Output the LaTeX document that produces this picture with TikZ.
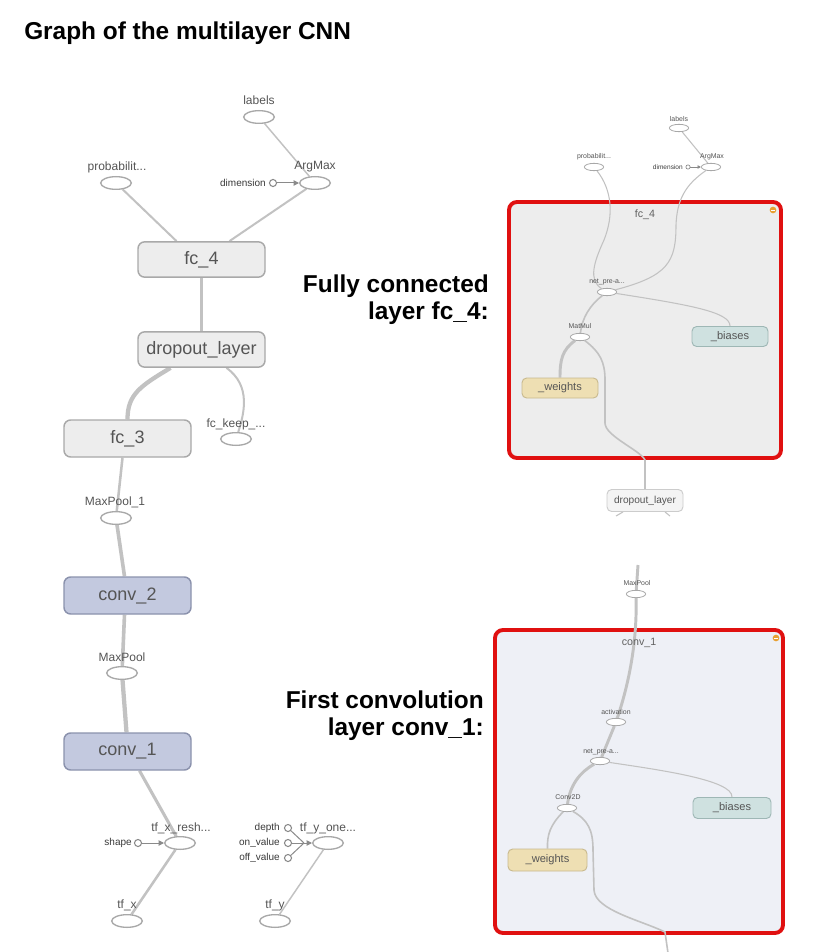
\documentclass[tikz,border=0pt]{standalone}
\usepackage{fontspec}
\setmainfont{Liberation Sans}
\usetikzlibrary{shapes.geometric,calc,arrows.meta}
\pgfdeclarelayer{frames}
\pgfdeclarelayer{bg}
\pgfsetlayers{frames,bg,main}
\definecolor{boxfill}{HTML}{EDEDED}
\definecolor{boxline}{HTML}{A9A9A9}
\definecolor{convfill}{HTML}{C3C9DF}
\definecolor{convline}{HTML}{8B92AD}
\definecolor{elline}{HTML}{A8A8A8}
\definecolor{edgec}{HTML}{C2C2C2}
\definecolor{constc}{HTML}{8A8A8A}
\definecolor{redc}{HTML}{E01010}
\definecolor{wfill}{HTML}{EEDFB3}
\definecolor{wline}{HTML}{C8B98E}
\definecolor{bfill}{HTML}{CFE1E0}
\definecolor{bline}{HTML}{9EB7B5}
\definecolor{orangec}{HTML}{E8A030}
\definecolor{txt}{HTML}{555555}
\definecolor{ctxt}{HTML}{3A3A3A}
\definecolor{fcfill}{HTML}{EDEDED}
\definecolor{cvfill}{HTML}{EEF0F6}
\definecolor{sdfill}{HTML}{F4F4F4}
\definecolor{sdline}{HTML}{CCCCCC}
\begin{document}
\begin{tikzpicture}[x=0.75pt,y=-0.75pt,
  box/.style={draw=boxline, fill=boxfill, rounded corners=5pt, line width=1.1pt,
    minimum width=95.25pt, minimum height=26.5pt, inner sep=0pt,
    font=\fontsize{13.5}{15}\selectfont, text=txt},
  convbox/.style={box, fill=convfill, draw=convline},
  ell/.style={ellipse, draw=elline, fill=white, line width=1pt,
    minimum width=23pt, minimum height=9.5pt, inner sep=0pt},
  lbl/.style={font=\fontsize{9}{10}\selectfont, text=txt, inner sep=0pt},
  const/.style={circle, draw=constc, fill=white, line width=0.8pt,
    minimum size=5.3pt, inner sep=0pt},
  clbl/.style={font=\fontsize{7.5}{8}\selectfont, text=ctxt, inner sep=0pt, anchor=east},
  carrow/.style={draw=constc, line width=0.75pt, -{Triangle[length=4pt,width=4pt]}},
  ea/.style={draw=edgec, line width=1.1pt},
  eb/.style={draw=edgec, line width=1.5pt},
  ec/.style={draw=edgec, line width=1.9pt},
  ed/.style={draw=edgec, line width=2.3pt},
  ee/.style={draw=edgec, line width=2.7pt},
  ef/.style={draw=edgec, line width=3.2pt},
  sell/.style={ellipse, draw=elline, fill=white, line width=0.6pt,
    minimum width=14.5pt, minimum height=5.5pt, inner sep=0pt},
  slbl/.style={font=\fontsize{5.2}{6}\selectfont, text=txt, inner sep=0pt},
  sconst/.style={circle, draw=constc, fill=white, line width=0.5pt,
    minimum size=3.2pt, inner sep=0pt},
  sclbl/.style={font=\fontsize{4.9}{6}\selectfont, text=ctxt, inner sep=0pt, anchor=east},
  sarrow/.style={draw=constc, line width=0.5pt, -{Triangle[length=2.5pt,width=2.5pt]}},
  sbox/.style={rounded corners=3.5pt, line width=0.7pt, minimum width=57pt,
    minimum height=15pt, inner sep=0pt, font=\fontsize{8.3}{9}\selectfont, text=txt},
  wbox/.style={sbox, fill=wfill, draw=wline},
  bbox/.style={sbox, fill=bfill, draw=bline},
  frame/.style={draw=redc, line width=2.9pt, rounded corners=6pt, inner sep=0pt},
  se/.style={draw=edgec, line width=0.8pt},
  sf/.style={draw=edgec, line width=1.2pt},
  sk/.style={draw=edgec, line width=2.2pt},
  flbl/.style={font=\fontsize{8}{9}\selectfont, text=ctxt!80, inner sep=0pt},
  big/.style={font=\fontsize{18.3}{20}\selectfont\bfseries, text=black, inner sep=0pt},
  minus/.style={circle, fill=orangec, minimum size=5pt, inner sep=0pt}
]
\useasboundingbox (0,0) rectangle (825,952);
\begin{pgfonlayer}{frames}
\fill[white] (0,0) rectangle (825,952);
\end{pgfonlayer}

% ---------- title and captions ----------
\node[big, anchor=base west] (title) at (24,40) {Graph of the multilayer CNN};
\node[big, anchor=base east] (cap1a) at (489,292) {Fully connected};
\node[big, anchor=base east] (cap1b) at (489,319) {layer fc\_4:};
\node[big, anchor=base east] (cap2a) at (484,708) {First convolution};
\node[big, anchor=base east] (cap2b) at (484,735) {layer conv\_1:};

% ---------- left graph ----------
\node[lbl] (labT) at (259,100) {labels};
\node[ell] (labE) at (259,117) {};
\node[lbl] (probT) at (117,167) {probabilit...};
\node[ell] (probE) at (116,183) {};
\node[lbl] (argT) at (315,167) {ArgMax};
\node[ell] (argE) at (315,183) {};
\node[clbl] (dimT) at (266,183) {dimension};
\node[const] (dimC) at (273,183) {};

\node[box] (fc4) at (201.5,259.5) {fc\_4};
\node[box] (drop) at (201.5,349.5) {dropout\_layer};
\node[lbl] (fckT) at (236,424) {fc\_keep\_...};
\node[ell] (fckE) at (236,439) {};
\node[box, minimum height=27.75pt] (fc3) at (127.5,438.5) {fc\_3};
\node[lbl] (mp1T) at (115,502) {MaxPool\_1};
\node[ell] (mp1E) at (116,518) {};
\node[convbox, minimum height=27.75pt] (conv2) at (127.5,595.5) {conv\_2};
\node[lbl] (mpT) at (122,657) {MaxPool};
\node[ell] (mpE) at (122,673) {};
\node[convbox, minimum height=27.75pt] (conv1) at (127.5,751.5) {conv\_1};

\node[lbl] (txrT) at (181,828) {tf\_x\_resh...};
\node[ell] (txrE) at (180,843) {};
\node[clbl] (shapeT) at (132,843) {shape};
\node[const] (shapeC) at (138,843) {};
\node[lbl] (txT) at (127,905) {tf\_x};
\node[ell] (txE) at (127,921) {};

\node[lbl] (tyoT) at (328,828) {tf\_y\_one...};
\node[ell] (tyoE) at (328,843) {};
\node[clbl] (depT) at (280,828) {depth};
\node[const] (depC) at (288,828) {};
\node[clbl] (onT) at (280,843) {on\_value};
\node[const] (onC) at (288,843) {};
\node[clbl] (offT) at (280,858) {off\_value};
\node[const] (offC) at (288,858) {};
\coordinate (tym) at (304,843);
\node[lbl] (tyT) at (275,905) {tf\_y};
\node[ell] (tyE) at (275,921) {};

\begin{pgfonlayer}{bg}
\draw[ea] (labE) -- (argE);
\draw[eb] (probE) -- ($(fc4.north)+(-25,0)$);
\draw[eb] (argE) -- ($(fc4.north)+(28,0)$);
\draw[carrow] (dimC) -- (argE);
\draw[ec] (fc4.south) -- (drop.north);
\draw[ef] ($(drop.south)+(-31,0)$) .. controls +(-30,18) and +(0,-25) .. (fc3.north);
\draw[eb] ($(drop.south)+(25,0)$) .. controls +(25,18) and +(8,-25) .. (fckE);
\draw[ec] ($(fc3.south)+(-5,0)$) -- (mp1E);
\draw[ee] (mp1E) -- ($(conv2.north)+(-3,0)$);
\draw[ee] ($(conv2.south)+(-3,0)$) -- (mpE);
\draw[ef] (mpE) -- ($(conv1.north)+(-1,0)$);
\draw[ed] ($(conv1.south)+(12,0)$) -- (txrE);
\draw[carrow] (shapeC) -- (txrE);
\draw[ec] (txrE) -- (txE);
\draw[constc, line width=0.75pt] (depC) -- (tym);
\draw[constc, line width=0.75pt] (onC) -- (tym);
\draw[constc, line width=0.75pt] (offC) -- (tym);
\draw[carrow] (tym) -- (tyoE);
\draw[ea] (tyoE) -- (tyE);
\end{pgfonlayer}

% ---------- right: fc_4 expanded ----------
\begin{pgfonlayer}{frames}
\node[frame, fill=fcfill, minimum width=204pt, minimum height=192pt] (fcframe) at (645,330) {};
\node[frame, fill=cvfill, minimum width=216pt, minimum height=227.25pt] (cvframe) at (639,781.5) {};
\end{pgfonlayer}

\node[slbl] (rlabT) at (679,119) {labels};
\node[sell] (rlabE) at (679,128) {};
\node[slbl] (rprobT) at (594,157) {probabilit...};
\node[sell] (rprobE) at (594,167) {};
\node[slbl] (rargT) at (712,157) {ArgMax};
\node[sell] (rargE) at (711,167) {};
\node[sclbl] (rdimT) at (683,167) {dimension};
\node[sconst] (rdimC) at (688,167) {};
\node[flbl] (fcT) at (645,215) {fc\_4};
\node[minus] (fcmin) at (773,210) {};
\node[slbl] (rnetT) at (607,282) {net\_pre-a...};
\node[sell] (rnetE) at (607,292) {};
\node[slbl] (rmmT) at (580,326) {MatMul};
\node[sell] (rmmE) at (580,337) {};
\node[bbox] (rbias) at (730,336.5) {\_biases};
\node[wbox] (rweights) at (560,388) {\_weights};
\node[sbox, fill=sdfill, draw=sdline, minimum height=16.5pt, font=\fontsize{7.6}{9}\selectfont] (rdrop) at (645,500.5) {dropout\_layer};
\coordinate (st1) at (616,516);
\coordinate (st2) at (670,516);

% ---------- right: conv_1 expanded ----------
\coordinate (ctop) at (638,565);
\node[slbl] (rmpT) at (637,583) {MaxPool};
\node[sell] (rmpE) at (636,594) {};
\node[flbl] (cvT) at (639,643) {conv\_1};
\node[minus] (cvmin) at (776,638) {};
\node[slbl] (ractT) at (616,712) {activation};
\node[sell] (ractE) at (616,722) {};
\node[slbl] (rnet2T) at (601,752) {net\_pre-a...};
\node[sell] (rnet2E) at (600,761) {};
\node[slbl] (rconvT) at (568,797) {Conv2D};
\node[sell] (rconvE) at (567,808) {};
\node[bbox, minimum width=58.5pt, minimum height=15.75pt] (rbias2) at (732,808) {\_biases};
\node[wbox, minimum width=59.25pt, minimum height=16.5pt] (rweights2) at (547.5,860) {\_weights};
\coordinate (cbot) at (668,953);

\draw[white, line width=0.6pt] ($(fcmin)+(-2,0)$) -- ($(fcmin)+(2,0)$);
\draw[white, line width=0.6pt] ($(cvmin)+(-2,0)$) -- ($(cvmin)+(2,0)$);

\begin{pgfonlayer}{bg}
\draw[se] (rlabE) -- (rargE);
\draw[sarrow] (rdimC) -- (rargE);
\draw[se] (rprobE) .. controls (612,190) and (614,215) .. (604,240)
  .. controls (594,262) and (588,280) .. (rnetE);
\draw[se] (rargE) .. controls (685,185) and (677,200) .. (676,225)
  .. controls (676,262) and (668,276) .. (rnetE);
\draw[sf] (rnetE) .. controls (590,305) and (582,318) .. (rmmE);
\draw[se] (rnetE) .. controls (690,305) and (730,312) .. (rbias.north);
\draw[sk] (rmmE) .. controls (562,350) and (560,360) .. (rweights.north);
\draw[sf] (rmmE) .. controls (600,352) and (605,362) .. (605,380) -- (605,423)
  .. controls (605,436) and (640,450) .. (645,460) -- (rdrop.north);
\draw[se] ($(rdrop.south)+(-22,0)$) -- (st1);
\draw[se] ($(rdrop.south)+(20,0)$) -- (st2);

\draw[sk] (ctop) -- (rmpE);
\draw[sk] (rmpE) .. controls (637,640) and (630,680) .. (ractE);
\draw[sk] (ractE) -- (rnet2E);
\draw[sk] (rnet2E) .. controls (580,772) and (570,785) .. (rconvE);
\draw[se] (rnet2E) .. controls (660,770) and (733,780) .. (rbias2.north);
\draw[sf] (rconvE) .. controls (550,825) and (547,835) .. (rweights2.north);
\draw[sf] (rconvE) .. controls (588,820) and (593,830) .. (593,850) -- (594,890)
  .. controls (595,910) and (640,920) .. (665,932) -- (cbot);
\end{pgfonlayer}
\end{tikzpicture}
\end{document}
